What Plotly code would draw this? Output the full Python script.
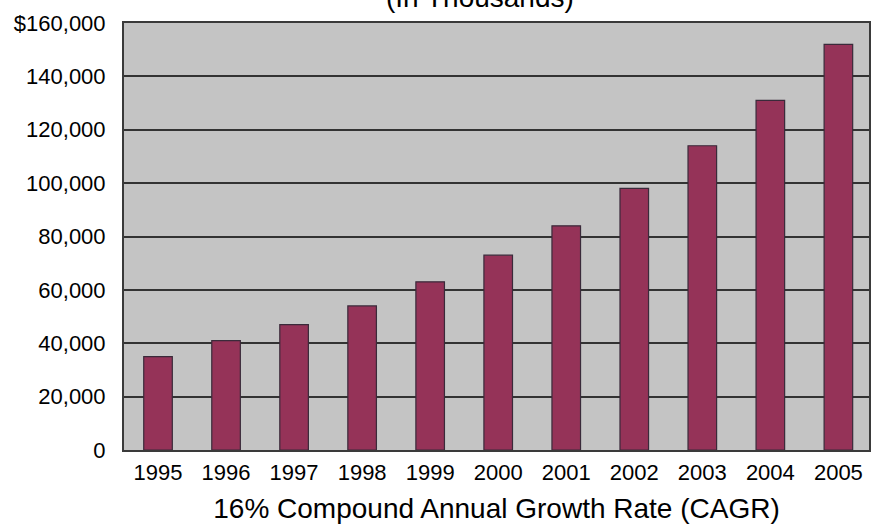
import plotly.graph_objects as go

years = ["1995", "1996", "1997", "1998", "1999", "2000",
         "2001", "2002", "2003", "2004", "2005"]
revenue = [35000, 41000, 47000, 54000, 63000, 73000,
           84000, 98000, 114000, 131000, 152000]

tick_vals = [0, 20000, 40000, 60000, 80000, 100000, 120000, 140000, 160000]
tick_text = ["0", "20,000", "40,000", "60,000", "80,000", "100,000",
             "120,000", "140,000", "$160,000"]

font_family = "Liberation Sans, Arial, sans-serif"

fig = go.Figure(
    go.Bar(
        x=years,
        y=revenue,
        marker=dict(color="#953358", line=dict(color="#3a2a3a", width=1.2)),
        width=0.42,
        hoverinfo="x+y",
    )
)

fig.update_layout(
    width=874,
    height=531,
    margin=dict(l=124, r=3, t=23, b=81),
    paper_bgcolor="white",
    plot_bgcolor="#c4c4c4",
    showlegend=False,
    font=dict(family=font_family, color="black"),
    annotations=[
        dict(
            text="(In Thousands)",
            xref="paper", yref="paper",
            x=0.478, y=1.0, yshift=8,
            xanchor="center", yanchor="bottom",
            showarrow=False,
            font=dict(size=28, family=font_family, color="black"),
        )
    ],
)

fig.update_xaxes(
    type="category",
    range=[-0.5, 10.45],
    showgrid=False,
    ticks="",
    tickfont=dict(size=22),
    ticklabelstandoff=2,
    title=dict(text="16% Compound Annual Growth Rate (CAGR)",
               font=dict(size=28), standoff=14),
    showline=True, linecolor="#3a3a3a", linewidth=2, mirror=True,
)

fig.update_yaxes(
    range=[0, 160000],
    tickvals=tick_vals,
    ticktext=tick_text,
    tickfont=dict(size=22),
    ticks="",
    ticklabelstandoff=12,
    showgrid=True, gridcolor="#333333", gridwidth=2,
    zeroline=False,
    showline=True, linecolor="#3a3a3a", linewidth=2, mirror=True,
)

fig.write_html("out.html")
